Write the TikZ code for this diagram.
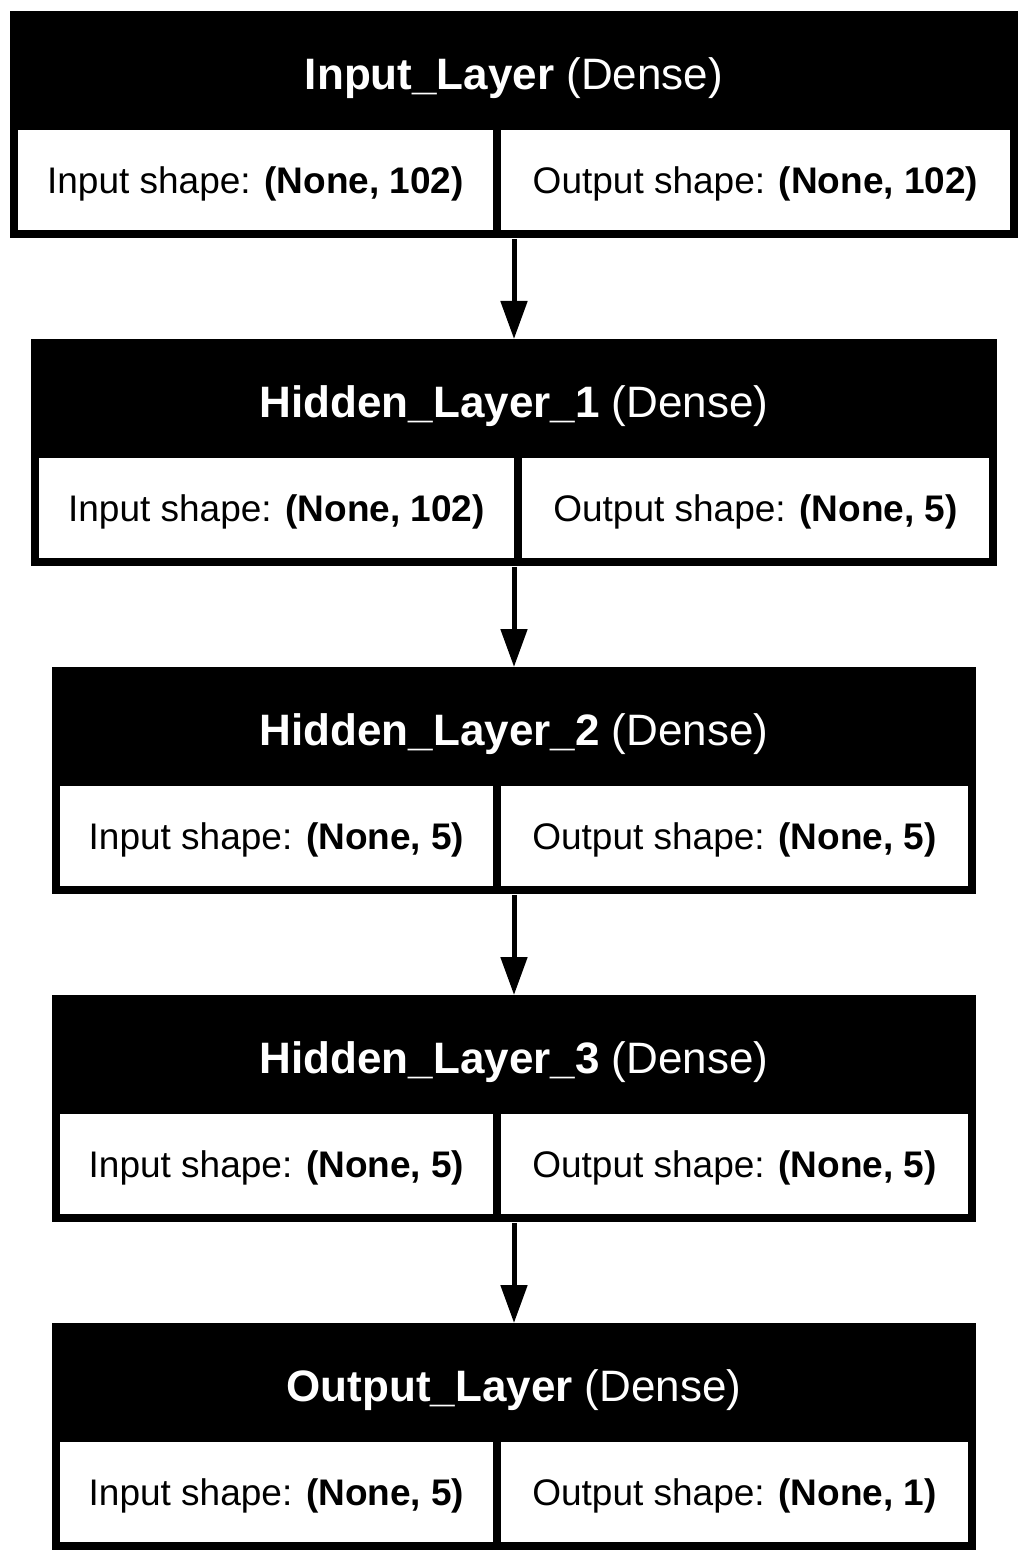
\documentclass[tikz,border=0pt]{standalone}
\usepackage{fontspec}
\setmainfont{Liberation Sans}
\usetikzlibrary{positioning,arrows.meta}
\begin{document}
\begin{tikzpicture}[
    x=0.5pt, y=-0.5pt,
    layer/.style={fill=black, inner sep=0pt, minimum height=113.5pt, anchor=north},
    title/.style={text=white, font=\fontsize{22}{26}\selectfont, inner sep=0pt, text height=15.75pt, text depth=0pt},
    cell/.style={fill=white, inner sep=0pt, minimum height=50pt, text height=13pt, text depth=0pt, font=\fontsize{18.5}{22}\selectfont},
    flow/.style={draw, line width=2.5pt, -{Triangle[length=19pt, width=13pt]}}
]
    \useasboundingbox (0,0) rectangle (1028,1561);
    % Input_Layer
    \node [layer, minimum width=504pt] (in) at (514,11) {};
    \node [title, below=23.25pt of in.north] (in-t) {\textbf{Input\_Layer} (Dense)};
    \node [cell, minimum width=237.5pt, above right=4pt and 4pt of in.south west] (in-i) {Input shape: \textbf{(None, 102)}};
    \node [cell, minimum width=254.5pt, above left=4pt and 4pt of in.south east] (in-o) {Output shape: \textbf{(None, 102)}};
    % Hidden_Layer_1
    \node [layer, minimum width=483pt] (h1) at (514,339) {};
    \node [title, below=23.25pt of h1.north] (h1-t) {\textbf{Hidden\_Layer\_1} (Dense)};
    \node [cell, minimum width=237.5pt, above right=4pt and 4pt of h1.south west] (h1-i) {Input shape: \textbf{(None, 102)}};
    \node [cell, minimum width=233.5pt, above left=4pt and 4pt of h1.south east] (h1-o) {Output shape: \textbf{(None, 5)}};
    % Hidden_Layer_2
    \node [layer, minimum width=462pt] (h2) at (514,667) {};
    \node [title, below=23.25pt of h2.north] (h2-t) {\textbf{Hidden\_Layer\_2} (Dense)};
    \node [cell, minimum width=216.5pt, above right=4pt and 4pt of h2.south west] (h2-i) {Input shape: \textbf{(None, 5)}};
    \node [cell, minimum width=233.5pt, above left=4pt and 4pt of h2.south east] (h2-o) {Output shape: \textbf{(None, 5)}};
    % Hidden_Layer_3
    \node [layer, minimum width=462pt] (h3) at (514,995) {};
    \node [title, below=23.25pt of h3.north] (h3-t) {\textbf{Hidden\_Layer\_3} (Dense)};
    \node [cell, minimum width=216.5pt, above right=4pt and 4pt of h3.south west] (h3-i) {Input shape: \textbf{(None, 5)}};
    \node [cell, minimum width=233.5pt, above left=4pt and 4pt of h3.south east] (h3-o) {Output shape: \textbf{(None, 5)}};
    % Output_Layer
    \node [layer, minimum width=462pt] (out) at (514,1323) {};
    \node [title, below=23.25pt of out.north] (out-t) {\textbf{Output\_Layer} (Dense)};
    \node [cell, minimum width=216.5pt, above right=4pt and 4pt of out.south west] (out-i) {Input shape: \textbf{(None, 5)}};
    \node [cell, minimum width=233.5pt, above left=4pt and 4pt of out.south east] (out-o) {Output shape: \textbf{(None, 1)}};
    % connectors
    \draw [flow] (in.south) -- (h1.north);
    \draw [flow] (h1.south) -- (h2.north);
    \draw [flow] (h2.south) -- (h3.north);
    \draw [flow] (h3.south) -- (out.north);
\end{tikzpicture}
\end{document}
